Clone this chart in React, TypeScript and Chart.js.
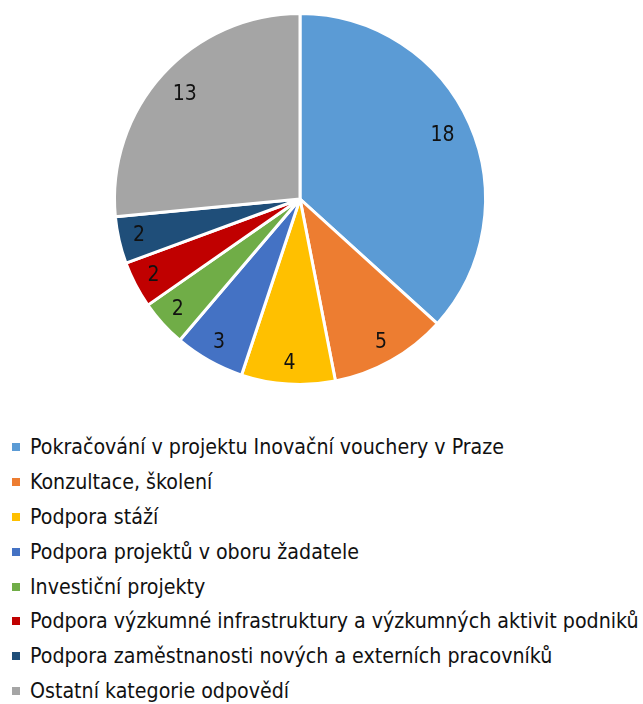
import React, { useEffect, useRef } from "react";
import { Chart, registerables } from "chart.js";

Chart.register(...registerables);

const categories = [
  "Pokračování v projektu Inovační vouchery v Praze",
  "Konzultace, školení",
  "Podpora stáží",
  "Podpora projektů v oboru žadatele",
  "Investiční projekty",
  "Podpora výzkumné infrastruktury a výzkumných aktivit podniků",
  "Podpora zaměstnanosti nových a externích pracovníků",
  "Ostatní kategorie odpovědí",
];
const values = [18, 5, 4, 3, 2, 2, 2, 13];
const colors = ["#5B9BD5", "#ED7D31", "#FFC000", "#4472C4", "#70AD47", "#C00000", "#1F4E79", "#A5A5A5"];

const FONT = "'DejaVu Sans Condensed', 'Liberation Sans Narrow', sans-serif";

const labelPlugin = {
  id: "sliceLabels",
  afterDatasetsDraw(chart: any) {
    const ctx = chart.ctx;
    const meta = chart.getDatasetMeta(0);
    ctx.save();
    ctx.font = `21px ${FONT}`;
    ctx.fillStyle = "#111";
    ctx.textAlign = "center";
    ctx.textBaseline = "middle";
    meta.data.forEach((el: any, i: number) => {
      const p = el.getProps(["x", "y", "startAngle", "endAngle", "outerRadius"], true);
      const mid = (p.startAngle + p.endAngle) / 2;
      const r = p.outerRadius * (values[i] > 10 ? 0.84 : 0.89);
      ctx.fillText(String(values[i]), p.x + Math.cos(mid) * r, p.y + Math.sin(mid) * r);
    });
    ctx.restore();
  },
};

export default function App() {
  const ref = useRef<HTMLCanvasElement | null>(null);
  useEffect(() => {
    if (!ref.current) return;
    const chart = new Chart(ref.current, {
      type: "pie",
      data: {
        labels: categories,
        datasets: [
          {
            data: values,
            backgroundColor: colors,
            borderColor: "#ffffff",
            borderWidth: 3,
          },
        ],
      },
      options: {
        responsive: false,
        animation: false,
        layout: { padding: { top: 12, bottom: 12, left: 0, right: 0 } },
        plugins: {
          legend: { display: false },
          tooltip: { enabled: false },
        },
      },
      plugins: [labelPlugin],
    });
    return () => chart.destroy();
  }, []);

  return (
    <div style={{ position: "absolute", left: 0, top: 0, width: 643, height: 704, background: "#fff", overflow: "hidden" }}>
      <canvas ref={ref} width={600} height={398} style={{ position: "absolute", left: 0, top: 0 }} />
      <div style={{ position: "absolute", left: 0, top: 430, fontFamily: FONT, fontSize: 21.2, color: "#111" }}>
        {categories.map((c, i) => (
          <div key={c} style={{ position: "relative", height: 34.9, lineHeight: "34.9px", whiteSpace: "nowrap" }}>
            <span style={{ position: "absolute", left: 12, top: 13, width: 8, height: 8, background: colors[i] }} />
            <span style={{ position: "absolute", left: 30, top: 0 }}>{c}</span>
          </div>
        ))}
      </div>
    </div>
  );
}
